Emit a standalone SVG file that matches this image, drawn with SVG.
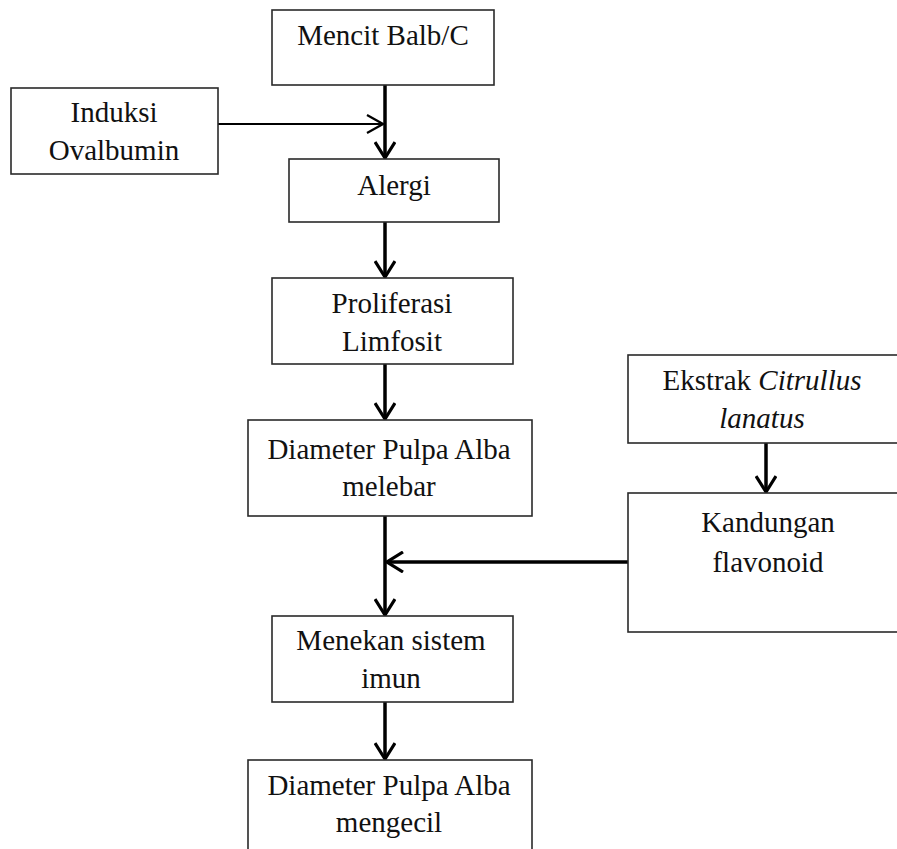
<svg xmlns="http://www.w3.org/2000/svg" width="897" height="849" viewBox="0 0 897 849">
<style>
.box{fill:#fff;stroke:#2a2a2a;stroke-width:1.6}
.t{font-family:"Liberation Serif","Times New Roman",serif;font-size:29px;fill:#111;text-anchor:middle}
.it{font-style:italic}
.c{fill:none;stroke:#000;stroke-width:3.5}
.ct{fill:none;stroke:#000;stroke-width:2}
</style>
<defs>
<marker id="ah" viewBox="0 0 20 22" refX="18" refY="11" markerWidth="20" markerHeight="22" markerUnits="userSpaceOnUse" orient="auto">
<path d="M2,1 L18,11 L2,21" fill="none" stroke="#000" stroke-width="3.2"/>
</marker>
<marker id="aht" viewBox="0 0 20 22" refX="18" refY="11" markerWidth="20" markerHeight="22" markerUnits="userSpaceOnUse" orient="auto">
<path d="M2,2 L18,11 L2,20" fill="none" stroke="#000" stroke-width="2.2"/>
</marker>
</defs>
<rect width="897" height="849" fill="#fff"/>
<g id="connectors">
<line class="c" x1="385" y1="85" x2="385" y2="158" marker-end="url(#ah)"/>
<line class="ct" x1="218" y1="124" x2="383" y2="124" marker-end="url(#aht)"/>
<line class="c" x1="385" y1="222" x2="385" y2="277" marker-end="url(#ah)"/>
<line class="c" x1="385" y1="364" x2="385" y2="419" marker-end="url(#ah)"/>
<line class="c" x1="385" y1="516" x2="385" y2="615" marker-end="url(#ah)"/>
<line class="c" x1="628" y1="562" x2="387" y2="562" marker-end="url(#ah)"/>
<line class="c" x1="766" y1="443" x2="766" y2="492" marker-end="url(#ah)"/>
<line class="c" x1="385" y1="702" x2="385" y2="759" marker-end="url(#ah)"/>
</g>
<g id="mencit">
<rect class="box" x="272" y="10" width="222" height="75"/>
<text class="t" x="383" y="45">Mencit Balb/C</text>
</g>
<g id="induksi">
<rect class="box" x="11" y="88" width="207" height="86"/>
<text class="t" x="114" y="122">Induksi</text>
<text class="t" x="114" y="160">Ovalbumin</text>
</g>
<g id="alergi">
<rect class="box" x="289" y="159" width="210" height="63"/>
<text class="t" x="394" y="195">Alergi</text>
</g>
<g id="proliferasi">
<rect class="box" x="272" y="278" width="241" height="86"/>
<text class="t" x="392" y="313">Proliferasi</text>
<text class="t" x="392" y="351">Limfosit</text>
</g>
<g id="diameter-melebar">
<rect class="box" x="248" y="420" width="284" height="96"/>
<text class="t" x="389" y="459">Diameter Pulpa Alba</text>
<text class="t" x="389" y="496">melebar</text>
</g>
<g id="ekstrak">
<rect class="box" x="628" y="355" width="275" height="88"/>
<text class="t" x="762" y="390">Ekstrak <tspan class="it">Citrullus</tspan></text>
<text class="t it" x="762" y="428">lanatus</text>
</g>
<g id="kandungan">
<rect class="box" x="628" y="493" width="275" height="139"/>
<text class="t" x="768" y="532">Kandungan</text>
<text class="t" x="768" y="572">flavonoid</text>
</g>
<g id="menekan">
<rect class="box" x="272" y="616" width="241" height="86"/>
<text class="t" x="391" y="650">Menekan sistem</text>
<text class="t" x="391" y="688">imun</text>
</g>
<g id="diameter-mengecil">
<rect class="box" x="248" y="760" width="284" height="110"/>
<text class="t" x="389" y="795">Diameter Pulpa Alba</text>
<text class="t" x="389" y="832">mengecil</text>
</g>
</svg>
